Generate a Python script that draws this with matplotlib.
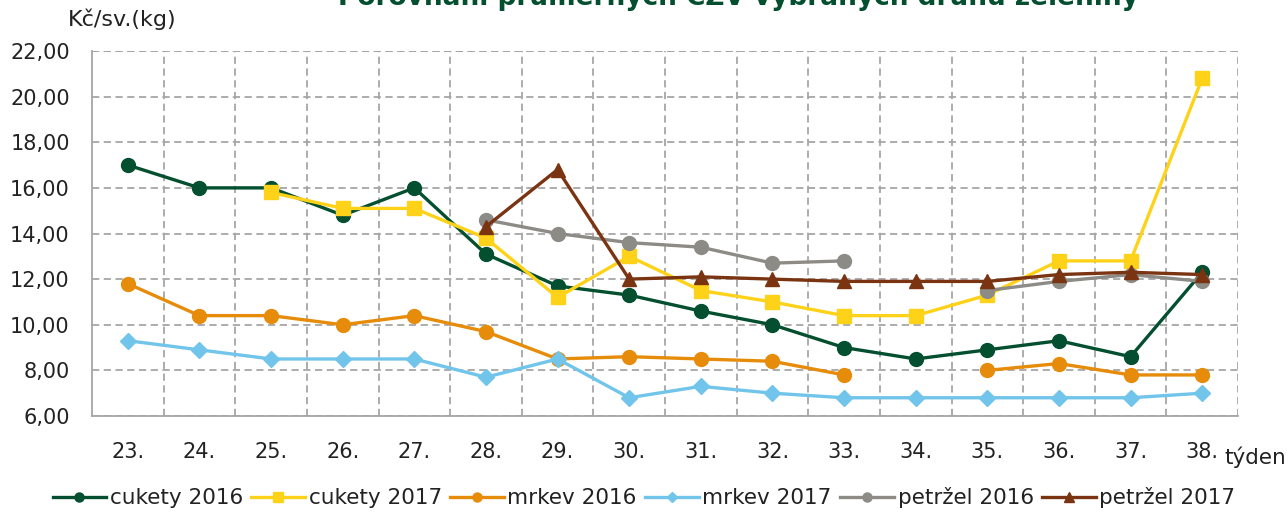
import numpy as np
import matplotlib
matplotlib.use("Agg")
import matplotlib.pyplot as plt
from matplotlib.ticker import FixedLocator, FuncFormatter

weeks = ["23.", "24.", "25.", "26.", "27.", "28.", "29.", "30.",
         "31.", "32.", "33.", "34.", "35.", "36.", "37.", "38."]
nan = np.nan
cukety_2016 = [17.0, 16.0, 16.0, 14.8, 16.0, 13.1, 11.7, 11.3,
               10.6, 10.0, 9.0, 8.5, 8.9, 9.3, 8.6, 12.3]
cukety_2017 = [nan, nan, 15.8, 15.1, 15.1, 13.8, 11.2, 13.0,
               11.5, 11.0, 10.4, 10.4, 11.3, 12.8, 12.8, 20.8]
mrkev_2016 = [11.8, 10.4, 10.4, 10.0, 10.4, 9.7, 8.5, 8.6,
              8.5, 8.4, 7.8, nan, 8.0, 8.3, 7.8, 7.8]
mrkev_2017 = [9.3, 8.9, 8.5, 8.5, 8.5, 7.7, 8.5, 6.8,
              7.3, 7.0, 6.8, 6.8, 6.8, 6.8, 6.8, 7.0]
petrzel_2016 = [nan, nan, nan, nan, nan, 14.6, 14.0, 13.6,
                13.4, 12.7, 12.8, nan, 11.5, 11.9, 12.2, 11.9]
petrzel_2017 = [nan, nan, nan, nan, nan, 14.3, 16.8, 12.0,
                12.1, 12.0, 11.9, 11.9, 11.9, 12.2, 12.3, 12.2]

series = [
    ("cukety 2016", cukety_2016, "#034F2F", "o", 10),
    ("cukety 2017", cukety_2017, "#FFD21A", "s", 10),
    ("mrkev 2016", mrkev_2016, "#E68C0A", "o", 10),
    ("mrkev 2017", mrkev_2017, "#72C5EA", "D", 8),
    ("petržel 2016", petrzel_2016, "#8C8B86", "o", 10),
    ("petržel 2017", petrzel_2017, "#7A3412", "^", 10),
]

INK = "#222222"
GRID = "#A6A6A6"
DASH = (0, (4, 2.5))

fig = plt.figure(figsize=(12.88, 5.13), dpi=100)
ax = fig.add_axes([92 / 1288, 1 - 416 / 513, 1146 / 1288, 365 / 513])

x = np.arange(len(weeks))
for label, vals, color, marker, ms in series:
    ax.plot(x, np.array(vals, dtype=float), color=color, lw=2.4,
            marker=marker, ms=ms, label=label, zorder=3)

ax.set_xlim(-0.5, len(weeks) - 0.5)
ax.set_ylim(6, 22)
ax.set_xticks(x)
ax.set_xticklabels(weeks)
ax.xaxis.set_minor_locator(FixedLocator(np.arange(0.5, len(weeks) - 0.5, 1)))
ax.set_yticks(np.arange(6, 23, 2))
ax.yaxis.set_major_formatter(FuncFormatter(lambda v, _: f"{v:.2f}".replace(".", ",")))
ax.tick_params(axis="both", which="both", length=0, labelsize=15, colors=INK)
ax.tick_params(axis="x", pad=19)
ax.tick_params(axis="y", pad=16)

ax.grid(axis="y", which="major", color=GRID, ls=DASH, lw=1.3)
ax.grid(axis="x", which="minor", color=GRID, ls=DASH, lw=1.3)
ax.set_axisbelow(True)
for side in ("top", "right"):
    ax.spines[side].set_visible(False)
for side in ("left", "bottom"):
    ax.spines[side].set_color(GRID)
    ax.spines[side].set_linewidth(1.3)
# dashed frame at top/right like the gridlines
ax.axhline(22, color=GRID, ls=DASH, lw=1.3, zorder=1)
ax.axvline(len(weeks) - 0.5, color=GRID, ls=DASH, lw=1.3, zorder=1)

fig.text(68 / 1288, 1 - 19 / 513, "Kč/sv.(kg)", fontsize=16, color=INK,
         va="center", ha="left")
fig.text(1224 / 1288, 1 - 457 / 513, "týden", fontsize=15.5, color=INK,
         va="center", ha="left")
fig.text(738 / 1288, 1 - 5 / 513,
         "Porovnání průměrných CZV vybraných druhů zeleniny",
         fontsize=19, fontweight="bold", color="#034F2F",
         ha="center", va="baseline")

fig.legend(loc="center", bbox_to_anchor=(0.5, 1 - 498 / 513), ncol=6,
           frameon=False, fontsize=15.5, handlelength=2.5, columnspacing=0.4,
           handletextpad=0.15, markerscale=0.65, labelcolor=INK)

fig.savefig("out.png", dpi=100)
